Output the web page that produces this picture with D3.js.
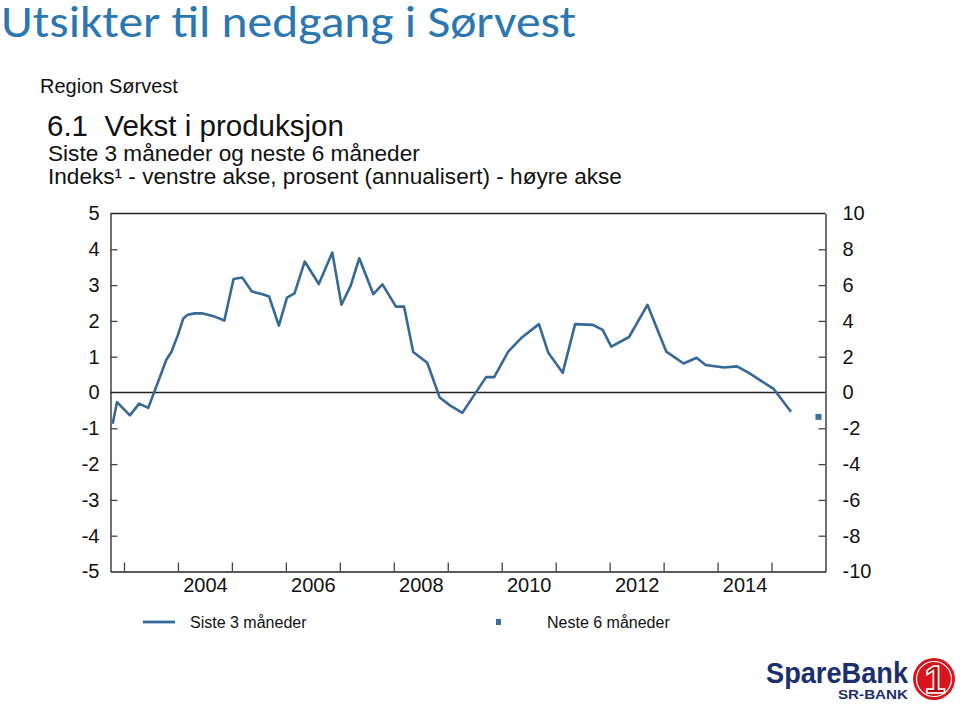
<!DOCTYPE html>
<html>
<head>
<meta charset="utf-8">
<script src="https://cdn.jsdelivr.net/npm/d3@7"></script>
<style>
  html, body { margin: 0; padding: 0; background: #fff; }
  svg { display: block; }
</style>
</head>
<body>
<svg id="chart" width="960" height="705"></svg>
<script>
// ---- Data ----
const dates = [2002.79,2002.87,2003.11,2003.28,2003.45,2003.69,2003.78,2003.88,2004.00,2004.10,
  2004.18,2004.31,2004.46,2004.68,2004.86,2005.03,2005.19,2005.37,2005.55,2005.69,
  2005.87,2006.02,2006.16,2006.35,2006.61,2006.86,2007.03,2007.20,2007.36,2007.62,
  2007.79,2008.04,2008.19,2008.36,2008.62,2008.85,2009.04,2009.27,2009.71,2009.86,
  2010.12,2010.36,2010.69,2010.86,2011.13,2011.36,2011.69,2011.87,2012.03,2012.36,
  2012.70,2013.05,2013.37,2013.61,2013.78,2014.12,2014.36,2014.58,2014.80,2015.04,
  2015.36];
const siste3 = [-0.87,-0.27,-0.64,-0.31,-0.43,0.53,0.90,1.14,1.61,2.07,
  2.17,2.21,2.21,2.12,2.01,3.17,3.21,2.82,2.75,2.68,
  1.87,2.65,2.77,3.66,3.03,3.91,2.45,2.98,3.75,2.75,
  3.02,2.40,2.40,1.13,0.83,-0.14,-0.36,-0.57,0.43,0.43,
  1.14,1.52,1.91,1.12,0.55,1.91,1.89,1.75,1.28,1.55,
  2.45,1.14,0.81,0.97,0.77,0.70,0.73,0.55,0.33,0.10,
  -0.54];
const nesteDates = [2015.87];
const neste6 = [-1.36];           // right axis (prosent, annualisert)
const leftTicks = [-5,-4,-3,-2,-1,0,1,2,3,4,5];
const rightTicks = [-10,-8,-6,-4,-2,0,2,4,6,8,10];
const yearTicks = [2003,2004,2005,2006,2007,2008,2009,2010,2011,2012,2013,2014,2015];
const yearLabels = [2004,2006,2008,2010,2012,2014];
const seriesNames = ["Siste 3 måneder", "Neste 6 måneder"];
const titleText = "Utsikter til nedgang i Sørvest";
const headerTexts = ["Region Sørvest", "6.1  Vekst i produksjon", "Siste 3 måneder og neste 6 måneder", "Indeks¹ - venstre akse, prosent (annualisert) - høyre akse"];

// ---- Layout ----
const svg = d3.select("#chart");
const L = 110.5, R = 825.5, T = 213.5, B = 571.5;
const lineColor = "#35699a";
const font = "'Liberation Sans', Arial, sans-serif";

const x = d3.scaleLinear().domain([2002.75, 2016.0]).range([L, R]);
const yL = d3.scaleLinear().domain([-5, 5]).range([B, T]);
const yR = d3.scaleLinear().domain([-10, 10]).range([B, T]);
const fmt = d => String(d);   // plain hyphen minus, as in the reference

// Title
svg.append("text")
  .attr("x", 1).attr("y", 37)
  .attr("font-family", "Carlito, Calibri, 'Open Sans', sans-serif")
  .attr("font-size", 45)
  .attr("fill", "#2b77b3")
  .attr("textLength", 575).attr("lengthAdjust", "spacingAndGlyphs")
  .text(titleText);

// Header texts
svg.append("text").attr("x", 40).attr("y", 93).attr("font-family", font).attr("font-size", 20)
  .attr("fill", "#111").text(headerTexts[0]);
svg.append("text").attr("x", 47).attr("y", 136).attr("font-family", font).attr("font-size", 29.5)
  .attr("fill", "#111").attr("xml:space", "preserve").style("white-space", "pre").text(headerTexts[1]);
svg.append("text").attr("x", 48).attr("y", 161).attr("font-family", font).attr("font-size", 22.6)
  .attr("fill", "#111").text(headerTexts[2]);
svg.append("text").attr("x", 48).attr("y", 184).attr("font-family", font).attr("font-size", 22.6)
  .attr("fill", "#111").text(headerTexts[3]);

// Axes
const axisColor = "#222";
const gL = svg.append("g").attr("transform", `translate(${L},0)`)
  .call(d3.axisLeft(yL).tickValues(leftTicks).tickSizeInner(-7).tickSizeOuter(0).tickPadding(11).tickFormat(fmt));
const gR = svg.append("g").attr("transform", `translate(${R},0)`)
  .call(d3.axisRight(yR).tickValues(rightTicks).tickSizeInner(-7).tickSizeOuter(0).tickPadding(17).tickFormat(fmt));
const gB = svg.append("g").attr("transform", `translate(0,${B})`)
  .call(d3.axisBottom(x).tickValues(yearTicks).tickSizeInner(-9).tickSizeOuter(0).tickFormat(""));
const gBL = svg.append("g").attr("transform", `translate(0,${B})`)
  .call(d3.axisBottom(x).tickValues(yearLabels.map(d => d + 0.5)).tickSize(0).tickPadding(6)
    .tickFormat(d => String(Math.floor(d))));
gBL.select(".domain").remove();

[gL, gR, gB, gBL].forEach(g => {
  g.selectAll(".domain").attr("stroke", axisColor).attr("stroke-width", 1.3);
  g.selectAll(".tick line").attr("stroke", "#444").attr("stroke-width", 1.3);
  g.selectAll("text").attr("font-family", font).attr("font-size", 20).attr("fill", "#111");
});
gL.selectAll(".tick").filter(d => d === 0 || d === 5 || d === -5).select("line").remove();
gR.selectAll(".tick").filter(d => d === 0 || d === 10 || d === -10).select("line").remove();

// top border
svg.append("line").attr("x1", L).attr("x2", R).attr("y1", T).attr("y2", T)
  .attr("stroke", axisColor).attr("stroke-width", 1.3);
// zero line
svg.append("line").attr("x1", L).attr("x2", R).attr("y1", yL(0)).attr("y2", yL(0))
  .attr("stroke", axisColor).attr("stroke-width", 1.3);

// Series line
const lineData = dates.map((d, i) => [d, siste3[i]]);
svg.append("path").datum(lineData)
  .attr("fill", "none").attr("stroke", lineColor).attr("stroke-width", 2.6)
  .attr("stroke-linejoin", "round")
  .attr("d", d3.line().x(d => x(d[0])).y(d => yL(d[1])));

// Forecast marker
svg.selectAll("rect.neste").data(nesteDates.map((d, i) => [d, neste6[i]])).enter()
  .append("rect").attr("class", "neste")
  .attr("x", d => x(d[0]) - 3).attr("y", d => yR(d[1]) - 3)
  .attr("width", 6).attr("height", 6).attr("fill", "#3a6fa0");

// Legend
const lg = svg.append("g");
lg.append("line").attr("x1", 143).attr("x2", 175).attr("y1", 622).attr("y2", 622)
  .attr("stroke", lineColor).attr("stroke-width", 2.8);
lg.append("text").attr("x", 190).attr("y", 628).attr("font-family", font).attr("font-size", 16)
  .attr("fill", "#111").text(seriesNames[0]);
lg.append("rect").attr("x", 496).attr("y", 619).attr("width", 5).attr("height", 6).attr("fill", "#3a6fa0");
lg.append("text").attr("x", 547).attr("y", 628).attr("font-family", font).attr("font-size", 16)
  .attr("fill", "#111").text(seriesNames[1]);

// Logo
const logo = svg.append("g");
logo.append("text").attr("x", 766).attr("y", 683).attr("font-family", "'Liberation Sans', Arial, sans-serif")
  .attr("font-weight", "bold").attr("font-size", 29).attr("fill", "#1b2f6e")
  .attr("textLength", 142).attr("lengthAdjust", "spacingAndGlyphs")
  .text("SpareBank");
logo.append("text").attr("x", 838).attr("y", 699).attr("font-family", "'Liberation Sans', Arial, sans-serif")
  .attr("font-weight", "bold").attr("font-size", 12).attr("fill", "#1b2f6e")
  .attr("textLength", 70).attr("lengthAdjust", "spacingAndGlyphs")
  .text("SR-BANK");
logo.append("circle").attr("cx", 934).attr("cy", 679).attr("r", 21).attr("fill", "#d8151c");
logo.append("circle").attr("cx", 934).attr("cy", 679).attr("r", 17.5).attr("fill", "none")
  .attr("stroke", "#fff").attr("stroke-width", 1.2);
logo.append("text").attr("x", 935).attr("y", 693).attr("text-anchor", "middle")
  .attr("font-family", "'Liberation Sans', Arial, sans-serif").attr("font-weight", "bold")
  .attr("font-size", 38).attr("fill", "#b00d13").attr("stroke", "#fff").attr("stroke-width", 1.5)
  .text("1");
</script>
</body>
</html>
